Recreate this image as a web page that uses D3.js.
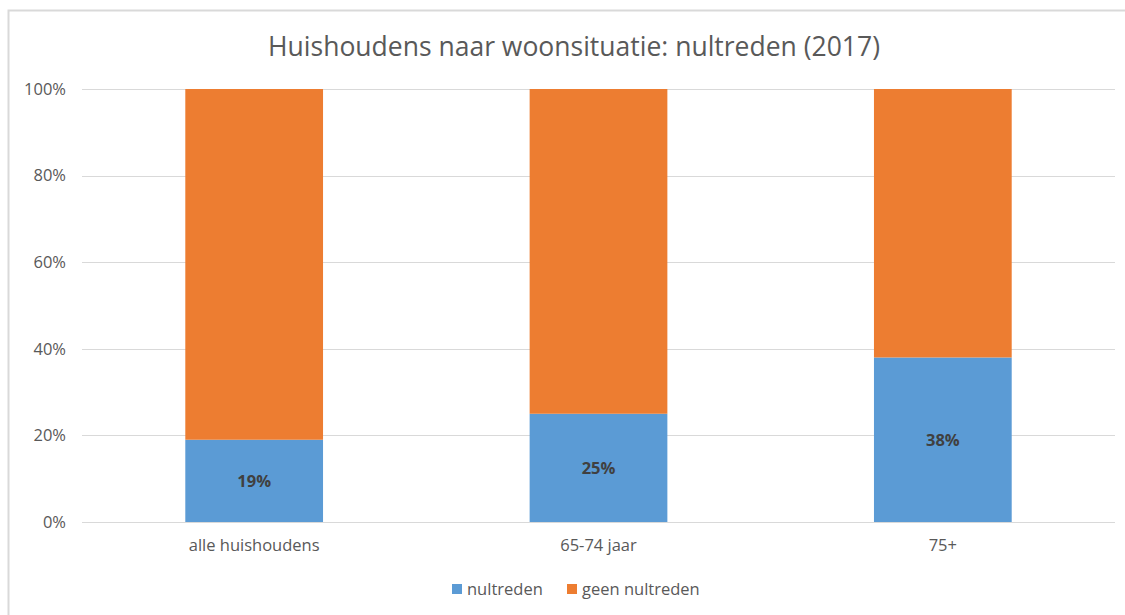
<!DOCTYPE html>
<html><head><meta charset="utf-8">
<script src="https://cdn.jsdelivr.net/npm/d3@7"></script>
<style>body{margin:0;background:#fff;}svg{display:block;}</style>
</head><body>
<script>
const categories = ["alle huishoudens", "65-74 jaar", "75+"];
const nultreden = [19, 25, 38];
const geenNultreden = [81, 75, 62];
const seriesNames = ["nultreden", "geen nultreden"];
const seriesColors = ["#5b9bd5", "#ed7d31"];
const yTicks = [0, 20, 40, 60, 80, 100];
const title = "Huishoudens naar woonsituatie: nultreden (2017)";

(function () {
const W = 1125, H = 615;
const font = "'Open Sans', 'Liberation Sans', sans-serif";
const svg = d3.select("body").append("svg").attr("width", W).attr("height", H);

// chart border
svg.append("path").attr("d", `M8.5,${H} V10.5 H${W}`).attr("fill", "none").attr("stroke", "#d9d9d9").attr("stroke-width", 2);

const pl = 82, pr = 1115, pt = 89, pb = 522;
const x = d3.scaleBand().domain(categories).range([pl, pr]).paddingInner(0.6).paddingOuter(0.3);
const y = d3.scaleLinear().domain([0, 100]).range([pb, pt]);

// gridlines
svg.append("g").selectAll("line").data(yTicks).join("line")
  .attr("x1", pl).attr("x2", pr)
  .attr("y1", d => Math.round(y(d)) + 0.5).attr("y2", d => Math.round(y(d)) + 0.5)
  .attr("stroke", "#d9d9d9").attr("stroke-width", 1);

// y axis labels
const yAxis = d3.axisLeft(y).tickValues(yTicks).tickFormat(d => d + "%").tickSize(0).tickPadding(0);
const ya = svg.append("g").attr("transform", `translate(66,0)`).call(yAxis);
ya.select(".domain").remove();
ya.selectAll("text").attr("font-family", font).attr("font-size", 16.5).attr("fill", "#595959");

// stacked data
const rows = categories.map((c, i) => ({cat: c, nultreden: nultreden[i], "geen nultreden": geenNultreden[i]}));
const stack = d3.stack().keys(seriesNames)(rows);

svg.append("g").selectAll("g").data(stack).join("g")
  .attr("fill", (d, i) => seriesColors[i])
  .selectAll("rect").data(d => d).join("rect")
  .attr("x", d => x(d.data.cat))
  .attr("width", x.bandwidth())
  .attr("y", d => y(d[1]))
  .attr("height", d => y(d[0]) - y(d[1]));

// data labels
svg.append("g").selectAll("text").data(stack[0]).join("text")
  .attr("x", d => x(d.data.cat) + x.bandwidth() / 2)
  .attr("y", d => (y(d[0]) + y(d[1])) / 2)
  .attr("dy", "0.35em")
  .attr("text-anchor", "middle")
  .attr("font-family", font).attr("font-size", 16.5).attr("font-weight", "bold").attr("fill", "#404040")
  .text(d => d.data.nultreden + "%");

// x axis labels
const xAxis = d3.axisBottom(x).tickSize(0).tickPadding(0);
const xa = svg.append("g").attr("transform", `translate(0,539)`).call(xAxis);
xa.select(".domain").remove();
xa.selectAll("text").attr("font-family", font).attr("font-size", 16.5).attr("fill", "#595959");

// title
svg.append("text").attr("x", 574).attr("y", 56).attr("text-anchor", "middle")
  .attr("font-family", font).attr("font-size", 26.5).attr("fill", "#595959").text(title);

// legend
const legendX = [452, 567];
const lg = svg.append("g").selectAll("g").data(seriesNames).join("g")
  .attr("transform", (d, i) => `translate(${legendX[i]},584)`);
lg.append("rect").attr("width", 10).attr("height", 10).attr("fill", (d, i) => seriesColors[i]);
lg.append("text").attr("x", 15).attr("y", 5).attr("dy", "0.35em")
  .attr("font-family", font).attr("font-size", 16.5).attr("fill", "#595959").text(d => d);
})();
</script>
</body></html>
